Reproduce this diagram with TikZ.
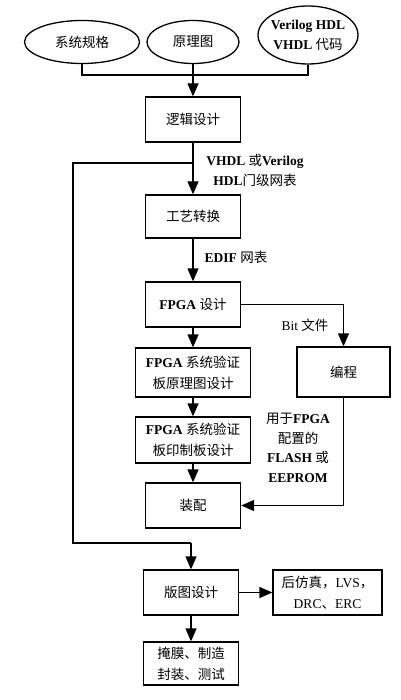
\documentclass[tikz,border=0pt]{standalone}
\usepackage{fontspec}
\setmainfont{Liberation Serif}
\newfontfamily\cjk{Noto Sans CJK SC}
\usetikzlibrary{arrows.meta,shapes.geometric}
\begin{document}
\begin{tikzpicture}[x=1pt,y=-1pt,
  every node/.style={font=\fontsize{13.5}{21}\selectfont},
  box/.style={draw,line width=1.3pt,minimum width=95pt,minimum height=45pt,inner sep=1pt,align=center},
  oval/.style={draw,ellipse,line width=1.3pt,inner sep=0pt},
  arr/.style={line width=1.3pt,-{Triangle[length=13pt,width=11pt]}},
  ln/.style={line width=1.3pt},
  lbl/.style={font=\bfseries\fontsize{13.5}{20}\selectfont,align=center,inner sep=0pt},
  txt/.style={align=center,inner sep=0pt}
]
\useasboundingbox (0,0) rectangle (400,700);
% ovals
\node[oval,minimum width=115pt,minimum height=43pt] (e1) at (82,42) {};
\node[txt] (t1) at (e1) {\cjk 系统规格};
\node[oval,minimum width=92pt,minimum height=43pt] (e2) at (193,42) {};
\node[txt] (t2) at (e2) {\cjk 原理图};
\node[oval,minimum width=100pt,minimum height=58pt] (e3) at (308,35) {};
\node[txt,font=\bfseries\fontsize{13.5}{20}\selectfont] (t3) at (e3) {Verilog HDL\\VHDL {\cjk\mdseries 代码}};
% boxes
\node[box] (logic) at (193,119.5) {\cjk 逻辑设计};
\node[box,minimum height=43pt] (tech) at (193,216.5) {\cjk 工艺转换};
\node[box] (fpga) at (193,304.5) {\textbf{FPGA} {\cjk 设计}};
\node[box,minimum width=115pt,minimum height=49pt] (b1) at (193,372.5) {\textbf{FPGA} {\cjk 系统验证}\\{\cjk 板原理图设计}};
\node[box,minimum width=115pt,minimum height=46pt] (b2) at (193,440) {\textbf{FPGA} {\cjk 系统验证}\\{\cjk 板印制板设计}};
\node[box] (zp) at (193,505.5) {\cjk 装配};
\node[box,minimum width=93pt,minimum height=50pt] (bc) at (343.5,372) {\cjk 编程};
\node[box] (bt) at (191,592.5) {\cjk 版图设计};
\node[box,minimum width=109pt] (hf) at (327.5,592.5) {{\cjk 后仿真，}LVS{\cjk ，}\\DRC{\cjk 、}ERC};
\node[box,minimum height=43pt] (ym) at (191,663.5) {{\cjk 掩膜、制造}\\{\cjk 封装、测试}};
% labels
\node[lbl] (l1) at (255,170) {VHDL {\cjk\mdseries 或}Verilog\\HDL{\cjk\mdseries 门级网表}};
\node[lbl] (l2) at (236,257) {EDIF {\cjk\mdseries 网表}};
\node[txt] (l3) at (305,325) {Bit {\cjk 文件}};
\node[lbl,font=\bfseries\fontsize{13.5}{19.5}\selectfont] (l4) at (298,448) {{\cjk\mdseries 用于}FPGA\\{\cjk\mdseries 配置的}\\FLASH {\cjk\mdseries 或}\\EEPROM};
% bus
\coordinate (bus) at (193,75);
\draw[ln] (e1.south) |- (bus) -| (e3.south);
\draw[arr] (e2.south) -- (logic.north);
% main flow
\draw[arr] (logic.south) -- (tech.north);
\draw[arr] (tech.south) -- (fpga.north);
\draw[arr] (fpga.south) -- (b1.north);
\draw[arr] (b1.south) -- (b2.north);
\draw[arr] (b2.south) -- (zp.north);
\draw[arr] (fpga.east) -| (bc.north);
\draw[arr] (bc.south) |- (zp.east);
\draw[arr] (bt.east) -- (hf.west);
\draw[arr] (bt.south) -- (ym.north);
% feedback
\coordinate (fa) at (193,163);
\coordinate (fb) at (73,163);
\coordinate (fc) at (73,543);
\coordinate (fd) at (191,543);
\draw[ln] (fa) -- (fb) -- (fc) -- (fd);
\draw[arr] (fd) -- (bt.north);
\end{tikzpicture}
\end{document}
